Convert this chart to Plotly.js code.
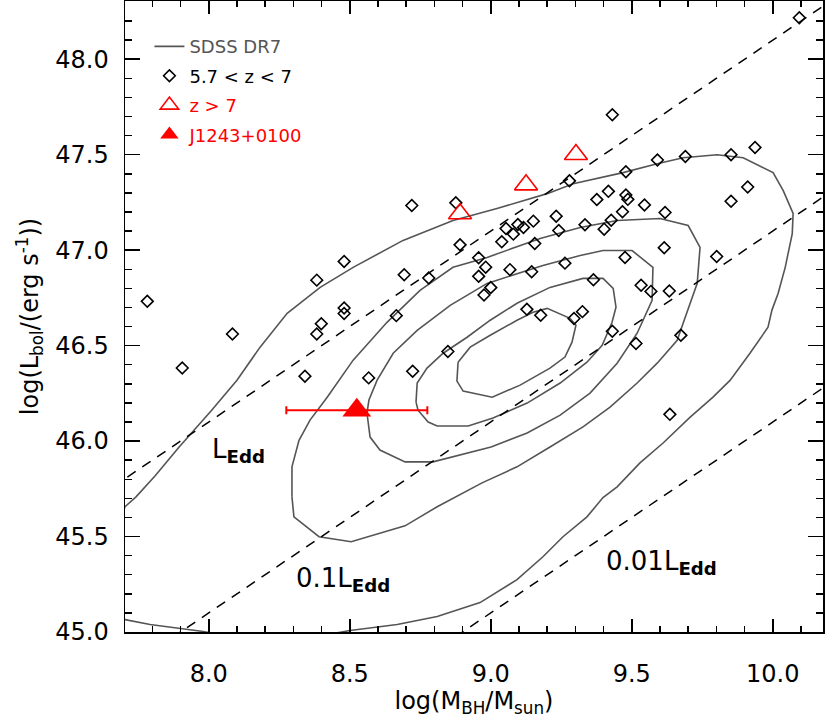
<!DOCTYPE html>
<html>
<head>
<meta charset="utf-8">
<script src="https://cdn.plot.ly/plotly-3.0.1.min.js"></script>
<style>
  html, body { margin: 0; padding: 0; background: #fff; }
  #chart { width: 830px; height: 718px; }
</style>
</head>
<body>
<div id="chart"></div>
<script>
// Quasars at 5.7 < z < 7 (log M_BH, log L_bol)
const lowzMass = [10.094, 9.431, 9.937, 9.591, 9.690, 9.852, 9.479, 9.279, 9.911, 9.852,
    8.876, 9.376, 9.417, 9.479, 9.486, 9.545, 9.618, 9.467, 9.232, 9.151,
    9.096, 9.054, 9.116, 9.080, 9.241, 9.334, 9.427, 9.402, 8.891, 9.039,
    9.156, 9.615, 9.476, 9.801, 8.957, 8.982, 8.957, 9.068, 9.145, 9.263,
    9.000, 8.976, 9.364, 9.533, 9.568, 9.633, 9.128, 9.177, 9.325, 9.295,
    7.782, 7.906, 8.084, 8.383, 8.480, 8.720, 8.693, 8.780, 8.480, 8.480,
    8.399, 8.383, 8.665, 8.848, 8.723, 8.567, 8.341, 9.431, 9.515, 9.674, 9.635];
const lowzLum = [48.217, 47.709, 47.538, 47.472, 47.491, 47.500, 47.411, 47.363, 47.331, 47.256,
    47.248, 47.265, 47.308, 47.289, 47.266, 47.237, 47.197, 47.201, 47.178, 47.152,
    47.134, 47.113, 47.119, 47.084, 47.103, 47.133, 47.157, 47.110, 47.028, 47.044,
    47.035, 47.013, 46.962, 46.967, 46.960, 46.911, 46.863, 46.898, 46.887, 46.932,
    46.804, 46.765, 46.845, 46.816, 46.784, 46.786, 46.690, 46.659, 46.678, 46.642,
    46.732, 46.383, 46.561, 46.843, 46.941, 47.234, 46.871, 46.854, 46.697, 46.668,
    46.615, 46.561, 46.657, 46.469, 46.366, 46.331, 46.340, 46.575, 46.511, 46.554, 46.140];

// Quasars at z > 7
const highzMass = [9.302, 9.125, 8.891];
const highzLum = [47.501, 47.342, 47.191];

// J1243+0100
const jMass = [8.525];
const jLum = [46.162];
const jMassErr = [0.25];

// SDSS DR7 density contours, innermost first
const c1x = [8.884, 8.927, 8.998, 9.093, 9.150, 9.200, 9.281, 9.302, 9.288, 9.263, 9.210, 9.104, 9.005, 8.902, 8.880, 8.884];
const c1y = [46.413, 46.492, 46.554, 46.633, 46.675, 46.695, 46.643, 46.607, 46.518, 46.440, 46.382, 46.293, 46.230, 46.262, 46.314, 46.413];
const c2x = [8.735, 8.739, 8.774, 8.831, 8.916, 8.998, 9.093, 9.210, 9.327, 9.398, 9.434, 9.444, 9.430, 9.395, 9.341, 9.246, 9.129, 9.008, 8.920, 8.810, 8.778, 8.742, 8.735];
const c2y = [46.204, 46.304, 46.382, 46.460, 46.544, 46.633, 46.722, 46.805, 46.852, 46.852, 46.800, 46.701, 46.622, 46.502, 46.413, 46.304, 46.199, 46.121, 46.079, 46.079, 46.100, 46.162, 46.204];
const c3x = [8.561, 8.572, 8.607, 8.696, 8.795, 8.916, 9.001, 9.129, 9.246, 9.352, 9.448, 9.519, 9.547, 9.572, 9.575, 9.501, 9.398, 9.317, 9.185, 8.987, 8.856, 8.739, 8.654, 8.597, 8.568, 8.561];
const c3y = [46.147, 46.021, 45.953, 45.891, 45.891, 45.938, 45.969, 46.042, 46.136, 46.251, 46.408, 46.565, 46.654, 46.737, 46.910, 46.998, 46.998, 46.972, 46.920, 46.826, 46.711, 46.580, 46.460, 46.319, 46.215, 46.147];
const c4x = [8.295, 8.302, 8.391, 8.505, 8.696, 8.810, 8.969, 9.093, 9.210, 9.327, 9.423, 9.519, 9.590, 9.661, 9.682, 9.707, 9.732, 9.742, 9.700, 9.600, 9.448, 9.317, 9.175, 8.987, 8.866, 8.749, 8.632, 8.512, 8.420, 8.359, 8.320, 8.295, 8.295];
const c4y = [45.708, 45.603, 45.499, 45.473, 45.556, 45.656, 45.781, 45.865, 45.969, 46.074, 46.178, 46.304, 46.408, 46.528, 46.617, 46.722, 46.826, 47.014, 47.129, 47.166, 47.155, 47.119, 47.061, 46.962, 46.910, 46.789, 46.622, 46.424, 46.230, 46.110, 46.004, 45.865, 45.708];
const c5x = [7.703, 7.742, 7.810, 7.895, 8.008, 8.100, 8.182, 8.278, 8.395, 8.512, 8.689, 8.866, 9.022, 9.200, 9.292, 9.469, 9.590, 9.682, 9.802, 9.895, 10.001, 10.037, 10.072, 10.069, 10.044, 10.019, 9.997, 9.983, 9.919, 9.849, 9.788, 9.707, 9.611, 9.529, 9.448, 9.398, 9.341, 9.256, 9.185, 9.093, 8.962, 8.810, 8.668, 8.501, 8.324, 8.146, 7.980, 7.909, 7.792, 7.703, 7.650, 7.657, 7.703];
const c5y = [45.656, 45.708, 45.818, 45.969, 46.157, 46.319, 46.492, 46.669, 46.805, 46.910, 47.051, 47.155, 47.218, 47.296, 47.348, 47.406, 47.453, 47.484, 47.500, 47.484, 47.406, 47.312, 47.192, 47.087, 46.910, 46.774, 46.686, 46.596, 46.460, 46.319, 46.230, 46.125, 45.990, 45.886, 45.760, 45.704, 45.603, 45.499, 45.394, 45.274, 45.154, 45.081, 45.039, 45.008, 44.960, 44.955, 45.003, 45.018, 45.039, 45.065, 45.170, 45.480, 45.656];
const contourX = [c1x, c2x, c3x, c4x, c5x];
const contourY = [c1y, c2y, c3y, c4y, c5y];

// Eddington ratio lines: L_Edd, 0.1 L_Edd, 0.01 L_Edd
const eddMass = [7.5, 10.5];
const eddLum = [45.6, 48.6];
const edd01Lum = [44.6, 47.6];
const edd001Lum = [43.6, 46.6];

const FONT = 'DejaVu Sans, Verdana, sans-serif';
const GREY = '#555555';

const traces = [];

contourX.forEach(function(xs, i) {
    traces.push({
        x: xs,
        y: contourY[i],
        type: 'scatter',
        mode: 'lines',
        name: '<span style="color:' + GREY + '">SDSS DR7</span>',
        legendgroup: 'sdss',
        showlegend: i === 0,
        line: { color: GREY, width: 1.6 },
        hoverinfo: 'skip'
    });
});

[eddLum, edd01Lum, edd001Lum].forEach(function(ys) {
    traces.push({
        x: eddMass,
        y: ys,
        type: 'scatter',
        mode: 'lines',
        showlegend: false,
        line: { color: 'black', width: 1.5, dash: '10px,8px' },
        hoverinfo: 'skip'
    });
});

traces.push({
    x: lowzMass,
    y: lowzLum,
    type: 'scatter',
    mode: 'markers',
    name: '5.7 &lt; z &lt; 7',
    legendgroup: 'lowz',
    marker: { symbol: 'diamond-open', size: 9, color: 'black', line: { width: 1.6 } }
});

traces.push({
    x: highzMass,
    y: highzLum,
    type: 'scatter',
    mode: 'markers',
    name: '<span style="color:red">z &gt; 7</span>',
    legendgroup: 'highz',
    marker: { symbol: 'triangle-up-open', size: 20, color: 'red', line: { width: 1.6 } }
});

traces.push({
    x: jMass,
    y: jLum,
    type: 'scatter',
    mode: 'markers',
    name: '<span style="color:red">J1243+0100</span>',
    legendgroup: 'j1243',
    marker: { symbol: 'triangle-up', size: 25, color: 'red' },
    error_x: { type: 'data', array: jMassErr, color: 'red', thickness: 2, width: 4 }
});

const axisCommon = {
    showgrid: false,
    zeroline: false,
    showline: true,
    linecolor: 'black',
    linewidth: 1.5,
    mirror: 'allticks',
    ticks: 'inside',
    tickcolor: 'black',
    tickwidth: 1.5,
    dtick: 0.5,
    tickformat: '.1f',
    tickfont: { family: FONT, size: 24, color: 'black' }
};

const layout = {
    width: 830,
    height: 718,
    margin: { l: 125, r: 7, t: 1, b: 86 },
    paper_bgcolor: 'white',
    plot_bgcolor: 'white',
    font: { family: FONT, color: 'black' },
    xaxis: Object.assign({}, axisCommon, {
        range: [7.703, 10.178],
        tick0: 8,
        ticklen: 13,
        ticklabelstandoff: 20,
        minor: { ticks: 'inside', ticklen: 6, dtick: 0.1, tick0: 8, tickwidth: 1.5, tickcolor: 'black', showgrid: false },
        title: { text: 'log(M<sub>BH</sub>/M<sub>sun</sub>)', font: { family: FONT, size: 24, color: 'black' }, standoff: 6 }
    }),
    yaxis: Object.assign({}, axisCommon, {
        range: [45.0, 48.305],
        tick0: 45,
        ticklen: 15,
        ticklabelstandoff: 10,
        minor: { ticks: 'inside', ticklen: 7, dtick: 0.1, tick0: 45, tickwidth: 1.5, tickcolor: 'black', showgrid: false },
        title: { text: 'log(L<sub>bol</sub>/(erg s<sup>-1</sup>))', font: { family: FONT, size: 24, color: 'black' }, standoff: 10 }
    }),
    legend: {
        x: 0.035,
        y: 0.957,
        xanchor: 'left',
        yanchor: 'top',
        bgcolor: 'rgba(0,0,0,0)',
        font: { family: FONT, size: 18, color: 'black' },
        traceorder: 'grouped',
        tracegroupgap: 3
    },
    annotations: [
        { x: 8.005, y: 45.953, xref: 'x', yref: 'y', text: 'L<sub><b>Edd</b></sub>', showarrow: false,
          xanchor: 'left', yanchor: 'middle', font: { family: FONT, size: 26, color: 'black' } },
        { x: 8.302, y: 45.274, xref: 'x', yref: 'y', text: '0.1L<sub><b>Edd</b></sub>', showarrow: false,
          xanchor: 'left', yanchor: 'middle', font: { family: FONT, size: 26, color: 'black' } },
        { x: 9.402, y: 45.363, xref: 'x', yref: 'y', text: '0.01L<sub><b>Edd</b></sub>', showarrow: false,
          xanchor: 'left', yanchor: 'middle', font: { family: FONT, size: 26, color: 'black' } }
    ]
};

const config = {
    responsive: false,
    displayModeBar: false,
    staticPlot: true
};

Plotly.newPlot('chart', traces, layout, config);
</script>
</body>
</html>
